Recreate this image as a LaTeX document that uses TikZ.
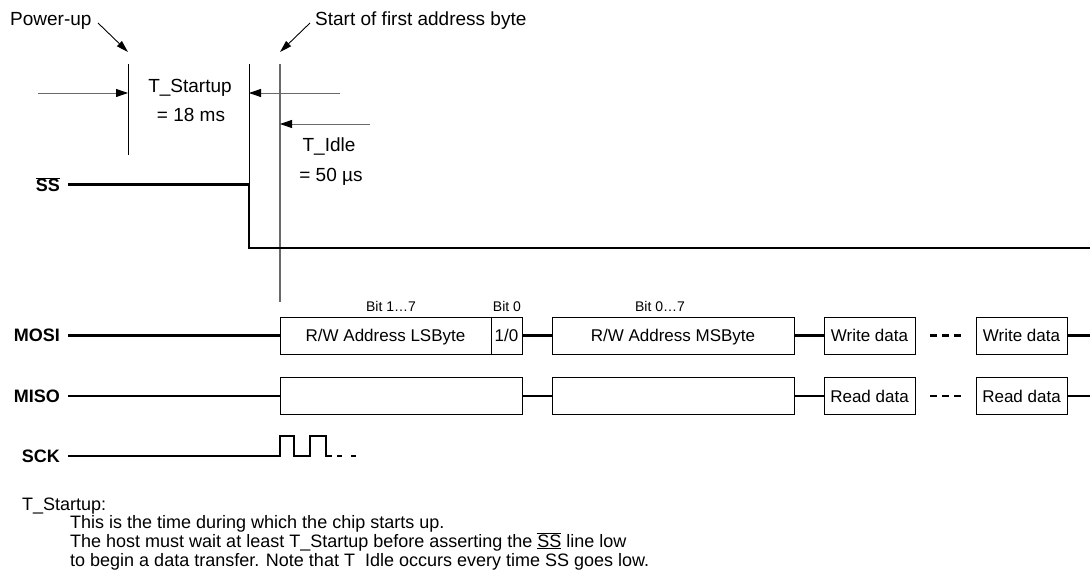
\documentclass[tikz,border=0pt]{standalone}
\usepackage{fontspec}
\setmainfont{Liberation Sans}
\usetikzlibrary{arrows.meta}
\definecolor{gline}{RGB}{105,105,105}
\newcommand\barss{$\overline{\mbox{SS}}$}
\newcommand\boxss{$\underline{\overline{\mbox{SS}}}$}
\begin{document}
\begin{tikzpicture}[x=1pt,y=-1pt,
  ann/.style={font=\fontsize{19}{21}\selectfont, inner sep=0},
  sig/.style={font=\fontsize{18}{20}\selectfont\bfseries, inner sep=0, anchor=east},
  cell/.style={draw=black, line width=0.9pt, minimum height=37pt, inner sep=0,
    text height=12pt, text depth=0pt, font=\fontsize{17}{20}\selectfont},
  bitlbl/.style={font=\fontsize{14}{16}\selectfont, inner sep=0, anchor=base},
  wave/.style={line width=2.7pt, draw=black},
  clk/.style={line width=2.3pt, draw=black},
  guide/.style={line width=0.9pt, draw=black},
  gguide/.style={line width=1.1pt, draw=gline},
  dim/.style={line width=0.9pt, draw=gline, -{Triangle[length=12pt,width=8pt,color=black]}},
  ptr/.style={line width=0.9pt, draw=black, -{Triangle[length=12pt,width=7pt]}},
  note/.style={font=\fontsize{18}{20}\selectfont, inner sep=0, anchor=base west}]
\useasboundingbox (0,0) rectangle (1090,575);

% top annotations
\node[ann, anchor=base west] (pwr) at (10,26) {Power-up};
\node[ann, anchor=base west] (sofa) at (315,26) {Start of first address byte};
\coordinate (pwrA) at (98,23);
\coordinate (pwrB) at (128,52);
\coordinate (sofaA) at (310,23);
\coordinate (sofaB) at (280,52);
\draw[ptr] (pwrA) -- (pwrB);
\draw[ptr] (sofaA) -- (sofaB);

% guide lines
\coordinate (pu) at (128,64);
\coordinate (puB) at (128,155);
\coordinate (su) at (249,64);
\coordinate (fa) at (280,64);
\coordinate (faB) at (280,302);
\coordinate (ssfall) at (249,184.5);
\coordinate (sslow) at (249,248);
\coordinate (ssend) at (1090,248);
\draw[guide] (pu) -- (puB);
\draw[guide] (su) -- (ssfall);
\draw[gguide] (fa) -- (faB);

% dimension arrows
\coordinate (a1s) at (38,93);
\coordinate (a2s) at (340,93);
\coordinate (a3s) at (370,124);
\draw[dim] (a1s) -- (a1s -| pu);
\draw[dim] (a2s) -- (a2s -| su);
\draw[dim] (a3s) -- (a3s -| fa);

\node[ann, anchor=base] (tst) at (190,93) {T\_Startup};
\node[ann, anchor=base] (tstv) at (191,122) {= 18 ms};
\node[ann, anchor=base] (tid) at (329,152) {T\_Idle};
\node[ann, anchor=base] (tidv) at (331,182) {= 50 µs};

% SS
\node[sig] (ss) at (60,184.5) {\barss};
\draw[wave] ([xshift=8pt]ss.east) -- (ssfall) -- (sslow) -- (ssend);

% bit labels
\node[bitlbl] (b17) at (391,311) {Bit 1…7};
\node[bitlbl] (b0) at (507,311) {Bit 0};
\node[bitlbl] (b07) at (660,311) {Bit 0…7};

% MOSI
\node[sig] (mosi) at (60,335.5) {MOSI};
\node[cell, minimum width=211pt] (lsb) at (385.5,335.5) {R/W Address LSByte};
\node[cell, minimum width=31pt] (rwb) at (506.5,335.5) {1/0};
\node[cell, minimum width=242pt] (msb) at (673,335.5) {R/W Address MSByte};
\node[cell, minimum width=91pt] (wd1) at (869.5,335.5) {Write data};
\node[cell, minimum width=91pt] (wd2) at (1021.5,335.5) {Write data};
\coordinate (mosiEnd) at (1090,335.5);
\draw[wave] ([xshift=8pt]mosi.east) -- (lsb.west);
\draw[wave] (rwb.east) -- (msb.west);
\draw[wave] (msb.east) -- (wd1.west);
\draw[wave] (wd2.east) -- (mosiEnd);
\draw[wave, dash pattern=on 7pt off 5pt] ([xshift=15pt]wd1.east) -- ([xshift=-15pt]wd2.west);

% MISO
\node[sig] (miso) at (60,396) {MISO};
\node[cell, minimum width=242pt] (mi1) at (401,396) {};
\node[cell, minimum width=242pt] (mi2) at (673,396) {};
\node[cell, minimum width=91pt] (rd1) at (869.5,396) {Read data};
\node[cell, minimum width=91pt] (rd2) at (1021.5,396) {Read data};
\coordinate (misoEnd) at (1090,396);
\draw[wave] ([xshift=8pt]miso.east) -- (mi1.west);
\draw[wave] (mi1.east) -- (mi2.west);
\draw[wave] (mi2.east) -- (rd1.west);
\draw[wave] (rd2.east) -- (misoEnd);
\draw[wave, dash pattern=on 7pt off 5pt] ([xshift=15pt]rd1.east) -- ([xshift=-15pt]rd2.west);

% SCK
\node[sig] (sck) at (60,456) {SCK};
\coordinate (c0) at (280,456);
\coordinate (cdots) at (337,456);
\draw[clk] ([xshift=8pt]sck.east) -- (c0) -- ++(0,-20) -- ++(14,0) -- ++(0,20)
  -- ++(16,0) -- ++(0,-20) -- ++(16,0) -- ++(0,20) -- ++(6,0);
\draw[clk, dash pattern=on 5pt off 9pt] (cdots) -- ++(19,0);

% notes
\node[note] (n1) at (22,510) {T\_Startup:};
\node[note] (n2) at (70,528) {This is the time during which the chip starts up.};
\node[note] (n3) at (70,547) {The host must wait at least T\_Startup before asserting the \boxss{} line low};
\node[note] (n4) at (70,566) {to begin a data transfer. Note that T\hphantom{\_}Idle occurs every time SS goes low.};
\end{tikzpicture}
\end{document}
